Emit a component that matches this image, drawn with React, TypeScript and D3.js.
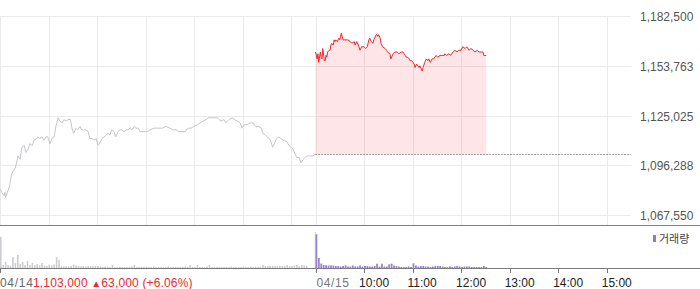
import React from 'react';
import * as d3 from 'd3';

const W = 700;
const H = 289;

// Y axis tick values (price, KRW)
const yTicks = [1067550, 1096288, 1125025, 1153763, 1182500];
const prevClose = 1103000;

// 04/14 intraday: [minutes since 09:00, price]
const day1Ticks: [number, number][] = [
  [0, 1083000], [2, 1081000], [5, 1079000], [6, 1081000], [7, 1078000], [10, 1082000], [12, 1085000],
  [14, 1091000], [16, 1093000], [19, 1095000], [21, 1099000], [22, 1102000], [25, 1100000], [27, 1107000],
  [30, 1108000], [32, 1104000], [35, 1106000], [37, 1109000], [40, 1108000], [42, 1111000], [45, 1112000],
  [47, 1113000], [49, 1112000], [52, 1113000], [54, 1111000], [57, 1113000], [59, 1113000], [62, 1109000],
  [64, 1112000], [67, 1113000], [69, 1119000], [72, 1124000], [74, 1122000], [77, 1121000], [79, 1123000],
  [82, 1122000], [84, 1123000], [87, 1123000], [89, 1118000], [91, 1115000], [94, 1118000], [96, 1117000],
  [99, 1119000], [101, 1117000], [104, 1117000], [106, 1117000], [109, 1116000], [111, 1112000], [114, 1112000],
  [116, 1111000], [119, 1112000], [121, 1108000], [124, 1110000], [126, 1112000], [129, 1113000], [131, 1114000],
  [134, 1115000], [136, 1114000], [138, 1117000], [141, 1116000], [143, 1113000], [146, 1116000], [148, 1117000],
  [151, 1117000], [153, 1116000], [156, 1117000], [158, 1117000], [161, 1118000], [163, 1117000], [166, 1119000],
  [168, 1118000], [171, 1118000], [173, 1116000], [178, 1116000], [183, 1116000], [185, 1117000], [190, 1118000],
  [195, 1118000], [198, 1118000], [201, 1118000], [205, 1119000], [210, 1118000], [214, 1117000], [218, 1117000],
  [221, 1116000], [225, 1116000], [229, 1116000], [232, 1118000], [236, 1118000], [240, 1119000], [244, 1120000],
  [247, 1121000], [251, 1122000], [255, 1123000], [258, 1124000], [262, 1124000], [266, 1124000], [269, 1124000],
  [273, 1122000], [277, 1123000], [279, 1121000], [283, 1123000], [287, 1124000], [290, 1123000], [294, 1122000],
  [297, 1121000], [299, 1118000], [302, 1120000], [305, 1120000], [309, 1121000], [313, 1121000], [316, 1119000],
  [320, 1119000], [323, 1118000], [325, 1115000], [328, 1114000], [330, 1113000], [333, 1112000], [335, 1110000],
  [337, 1107000], [340, 1110000], [342, 1112000], [345, 1113000], [347, 1112000], [350, 1111000], [352, 1111000],
  [355, 1110000], [357, 1108000], [360, 1107000], [362, 1106000], [365, 1103000], [367, 1101000], [370, 1101000],
  [372, 1098000], [375, 1100000], [377, 1101000], [379, 1102000], [383, 1102000], [387, 1102000], [390, 1103000],
];

// 04/15 intraday: [minutes since 09:00, price]
const day2Ticks: [number, number][] = [
  [0, 1162000], [2, 1158000], [3, 1161000], [4, 1156000], [6, 1162000], [7, 1159000], [8, 1158000], [9, 1164000],
  [11, 1157000], [12, 1157000], [13, 1160000], [14, 1159000], [15, 1162000], [17, 1163000], [18, 1163000],
  [19, 1166000], [20, 1167000], [22, 1166000], [23, 1169000], [24, 1168000], [25, 1169000], [27, 1168000],
  [28, 1169000], [29, 1170000], [30, 1169000], [32, 1173000], [33, 1171000], [34, 1169000], [35, 1169000],
  [38, 1169000], [40, 1169000], [43, 1168000], [45, 1167000], [48, 1168000], [49, 1166000], [51, 1168000],
  [53, 1166000], [55, 1163000], [57, 1165000], [60, 1165000], [62, 1164000], [64, 1165000], [66, 1169000],
  [67, 1170000], [69, 1168000], [71, 1167000], [72, 1169000], [75, 1172000], [76, 1172000], [77, 1171000],
  [78, 1172000], [80, 1170000], [81, 1167000], [83, 1165000], [86, 1164000], [88, 1163000], [89, 1162000],
  [92, 1161000], [93, 1158000], [96, 1161000], [98, 1162000], [101, 1162000], [103, 1161000], [106, 1162000],
  [108, 1162000], [111, 1160000], [112, 1159000], [114, 1159000], [116, 1158000], [117, 1157000], [119, 1157000],
  [122, 1155000], [123, 1153000], [125, 1155000], [128, 1153000], [129, 1154000], [132, 1151000], [133, 1153000],
  [135, 1156000], [137, 1158000], [139, 1157000], [140, 1158000], [142, 1156000], [144, 1158000], [146, 1158000],
  [149, 1160000], [151, 1159000], [154, 1160000], [156, 1160000], [159, 1160000], [160, 1161000], [162, 1160000],
  [165, 1161000], [167, 1160000], [170, 1162000], [172, 1163000], [175, 1162000], [177, 1163000], [180, 1163000],
  [182, 1165000], [185, 1164000], [187, 1165000], [190, 1163000], [192, 1164000], [195, 1163000], [197, 1162000],
  [200, 1163000], [202, 1162000], [205, 1162000], [207, 1162000], [208, 1160000], [211, 1160000],
];

// Volume, 3-minute buckets (shares)
const day1Volume = [
  3100, 300, 600, 300, 200, 1100, 500, 1300, 400, 600, 300, 700, 300, 500, 300, 400, 250, 500, 250, 200,
  350, 250, 350, 1100, 800, 150, 150, 200, 150, 200, 350, 250,
  200, 150, 200, 150, 200, 200, 150, 200, 200,
  150, 100, 150, 150, 100, 300, 100, 100, 150, 100,
  100, 100, 100, 150, 300, 100, 100, 100, 100, 150,
  100, 100, 150, 100, 100, 100, 100, 100, 150, 100,
  100, 100, 100, 100, 100, 150, 100, 300, 100, 100,
  300, 100, 100, 100, 150, 300, 100, 100, 100, 100,
  100, 100, 100, 100, 150, 100, 100, 100, 100, 150,
  100, 100, 150, 100, 150, 100, 100, 300, 200, 200,
  200, 200, 200, 200, 200, 200, 200, 300, 200, 200,
  250, 300, 200, 300, 250, 200, 0, 0, 0,
];
const day1CloseVolume = 3600;
const day2Volume = [
  3370, 1000, 450, 300, 270, 250, 270, 250, 200, 200, 150, 200, 270, 150, 150, 250, 150, 150, 250, 150,
  200, 200, 150, 150, 200, 430, 150, 430, 150, 150, 370, 430, 250, 200, 150, 100, 100, 100, 150, 100,
  470, 250, 150, 200, 200, 150, 150, 100, 150, 200, 200, 200, 150, 100, 100, 150, 100, 150, 200, 150,
  100, 150, 150, 150, 100, 100, 100, 100, 100, 200, 100,
];

const hourLabels = ['10:00', '11:00', '12:00', '13:00', '14:00', '15:00'];
const dayLabels = ['04/14', '04/15'];
const closeText = '1,103,000';
const changeText = '63,000 (+6.06%)';
const legendText = '거래량';

const SESSION = 390;
const FONT = "'Liberation Sans', Arial, sans-serif";

export default function App() {
  const x = d3.scaleLinear().domain([0, SESSION * 2]).range([0, 631]);
  const y = d3.scaleLinear().domain([yTicks[0], yTicks[yTicks.length - 1]]).range([215.5, 16.5]);
  const yv = d3.scaleLinear().domain([0, 3800]).range([268, 230]);
  const snap = (v: number) => Math.round(v - 0.5) + 0.5;

  const line1 = d3.line<[number, number]>().x(d => x(d[0])).y(d => y(d[1]));
  const line2 = d3.line<[number, number]>().x(d => x(SESSION + d[0])).y(d => y(d[1]));
  const area2 = d3
    .area<[number, number]>()
    .x(d => x(SESSION + d[0]))
    .y0(y(prevClose))
    .y1(d => y(d[1]));

  const gridMinutes: number[] = [];
  for (let d = 0; d < 2; d++) for (let h = 0; h <= 6; h++) gridMinutes.push(d * SESSION + h * 60);
  const gridX = gridMinutes.map(m => Math.round(x(m)) + 0.5);

  const tickMinutes = [0, SESSION, ...hourLabels.map((_, i) => SESSION + (i + 1) * 60)];
  const pcY = snap(y(prevClose));

  return (
    <svg width={W} height={H} style={{ position: 'absolute', left: 0, top: 0, fontFamily: FONT }}>
      <rect width={W} height={H} fill="#fff" />
      {/* horizontal grid */}
      {yTicks.map(t => (
        <line key={t} x1={0} x2={631} y1={snap(y(t))} y2={snap(y(t))} stroke="#ebebeb" />
      ))}
      {/* vertical grid */}
      {gridX.map((gx, i) => (
        <line key={i} x1={gx} x2={gx} y1={16} y2={225} stroke="#ebebeb" />
      ))}
      {/* today's area */}
      <path d={area2(day2Ticks) || ''} fill="#f4263a" fillOpacity={0.12} />
      {/* prev close dotted */}
      <line x1={x(SESSION)} x2={631} y1={pcY} y2={pcY} stroke="#444" strokeDasharray="1 2" />
      {/* lines */}
      <path d={line1(day1Ticks) || ''} fill="none" stroke="#c6c6cc" strokeWidth={1} />
      <path d={line2(day2Ticks) || ''} fill="none" stroke="#f2262e" strokeWidth={1} />
      {/* y labels */}
      {yTicks.map(t => (
        <text key={t} x={640} y={y(t) + 4.5} fontSize={12} fill="#555">
          {d3.format(',')(t)}
        </text>
      ))}
      {/* panel separator */}
      <line x1={0} x2={W} y1={225.5} y2={225.5} stroke="#808080" />
      {/* volume bars */}
      {day1Volume.map((v, i) =>
        v > 0 ? (
          <rect key={'a' + i} x={x(i * 3)} y={yv(v)} width={1.6} height={268 - yv(v)} fill="#cdcdd1" />
        ) : null
      )}
      <rect x={x(SESSION - 1)} y={yv(day1CloseVolume)} width={1.2} height={268 - yv(day1CloseVolume)} fill="#d4d4d8" />
      {day2Volume.map((v, i) => (
        <rect key={'b' + i} x={x(SESSION + i * 3)} y={yv(v)} width={1.8} height={268 - yv(v)} fill="#9a84cc" />
      ))}
      {/* volume axis */}
      <line x1={0} x2={W} y1={268.5} y2={268.5} stroke="#7a7a7a" />
      {tickMinutes.map((m, i) => {
        const tx = Math.round(x(m)) + 0.5;
        return <line key={i} x1={tx} x2={tx} y1={268} y2={273} stroke="#7a7a7a" />;
      })}
      {/* legend */}
      <rect x={653} y={235} width={3} height={7} fill="#8e7cc3" />
      <text x={659} y={242.5} fontSize={11} fill="#444" fontFamily="'Noto Sans CJK KR', sans-serif">
        {legendText}
      </text>
      {/* bottom labels */}
      <text x={0} y={287} fontSize={12} fill="#666" letterSpacing={0.7}>
        {dayLabels[0]}
      </text>
      <text x={33} y={287} fontSize={12} fill="#f0282d" letterSpacing={0.15}>
        {closeText}{' '}
        <tspan fontSize={10}>▲</tspan>
        {changeText}
      </text>
      <text x={316.5} y={287} fontSize={12} fill="#777" letterSpacing={0.6}>
        {dayLabels[1]}
      </text>
      {hourLabels.map((l, i) => (
        <text key={l} x={x(SESSION + (i + 1) * 60) - 5} y={287} fontSize={12} fill="#222">
          {l}
        </text>
      ))}
    </svg>
  );
}
